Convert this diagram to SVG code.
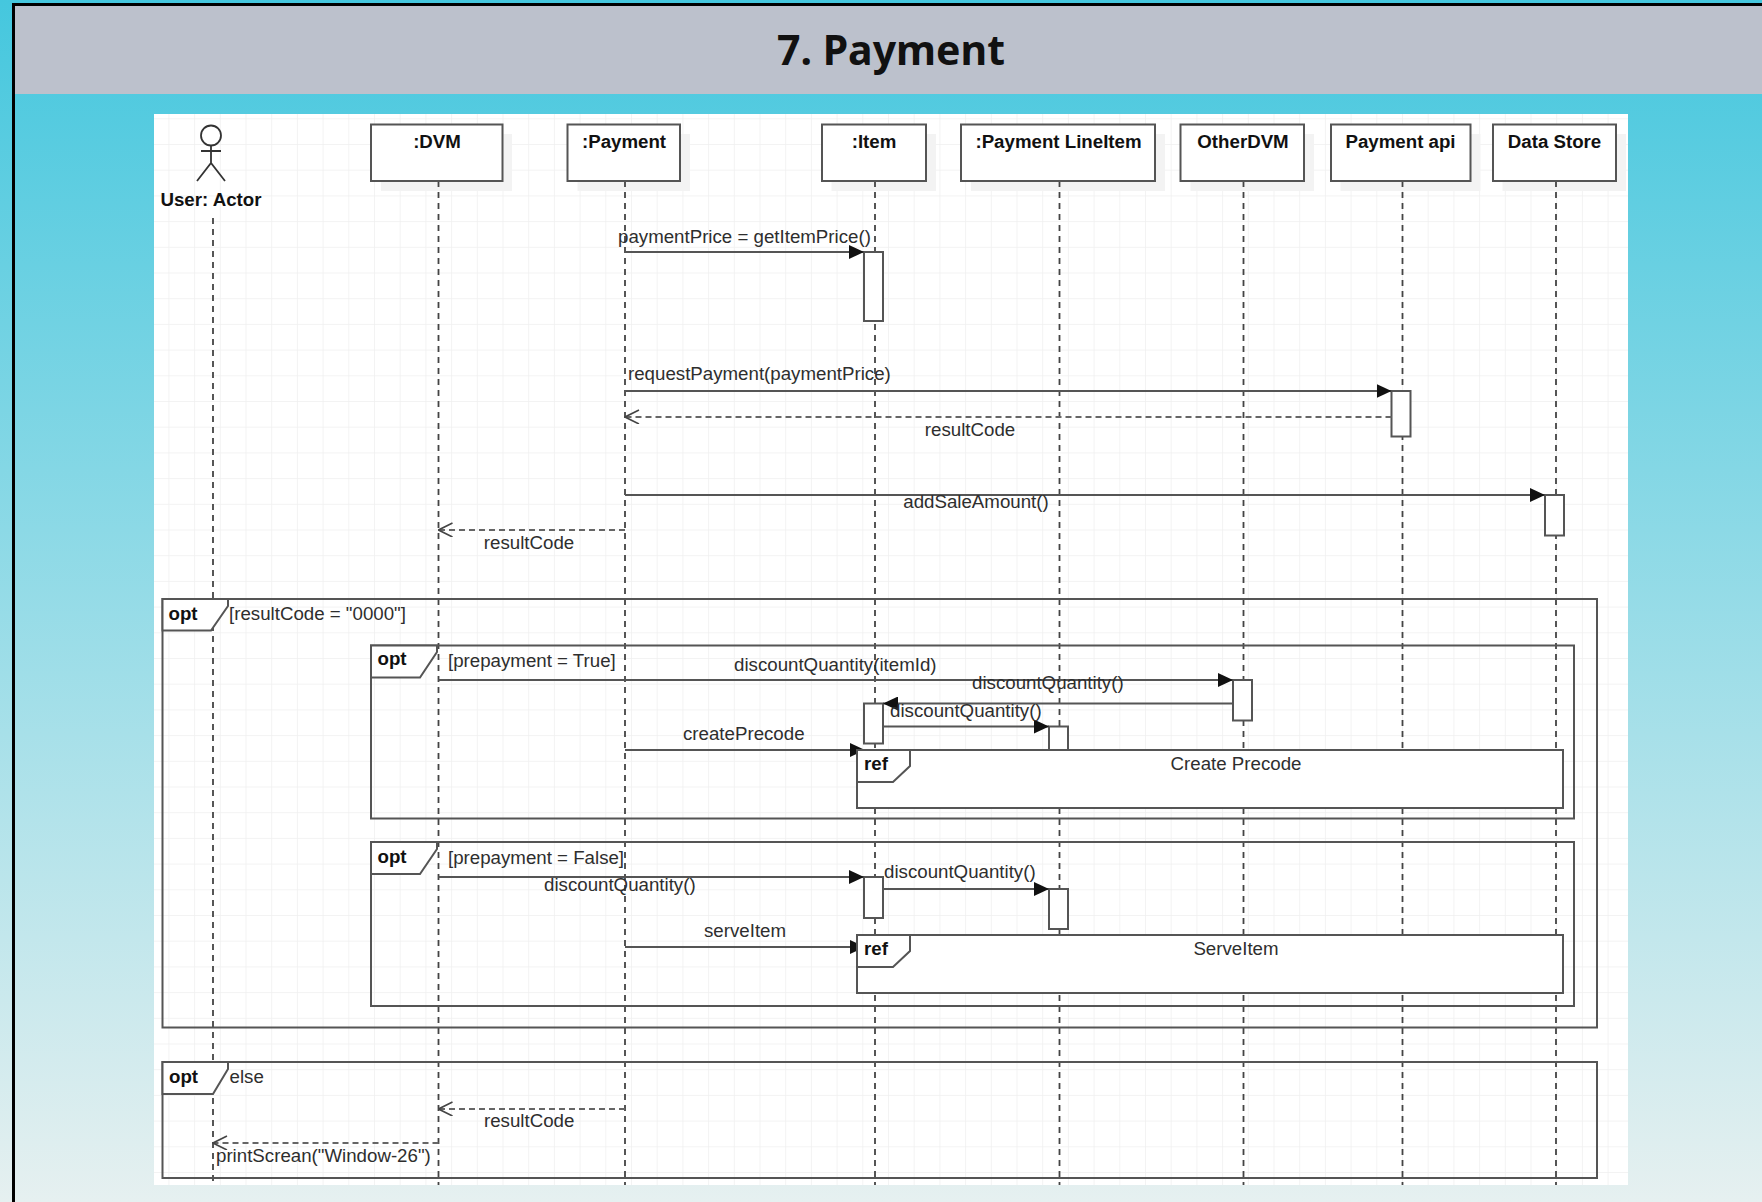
<svg xmlns="http://www.w3.org/2000/svg" width="1762" height="1202" viewBox="0 0 1762 1202">
<style>
text{font-family:"Liberation Sans",Arial,sans-serif;font-size:18.7px;fill:#2e2e2e}
.b{font-weight:bold;fill:#111}
.m{text-anchor:middle}
.t{font-family:"Noto Sans","Open Sans",sans-serif;font-size:41px;font-weight:bold;text-anchor:middle;fill:#111}
.box{fill:#fff;stroke:#555;stroke-width:2}
.sh{fill:#f3f3f3}
.act{fill:#fff;stroke:#555;stroke-width:2}
.fr{fill:none;stroke:#555;stroke-width:2}
.tab{fill:#fff;stroke:#555;stroke-width:2}
.life{stroke:#444;stroke-width:1.800;stroke-dasharray:6 5;fill:none}
.msg{stroke:#555;stroke-width:2;fill:none;marker-end:url(#solid)}
.ret{stroke:#666;stroke-width:2;stroke-dasharray:6 4;fill:none;marker-end:url(#open)}
</style>
<defs>
<linearGradient id="bg" x1="0" y1="0" x2="0" y2="1"><stop offset="0" stop-color="#45c7de"/><stop offset="1" stop-color="#e6f0f0"/></linearGradient>
<pattern id="grid" x="168.4" y="118.3" width="25.7" height="25.7" patternUnits="userSpaceOnUse"><path d="M0 0V25.7M0 0H25.7" stroke="#f0f0f0" stroke-width="1.5" fill="none"/></pattern>
<marker id="solid" markerUnits="userSpaceOnUse" markerWidth="16" markerHeight="14" refX="15" refY="7" orient="auto"><path d="M0 0L15 7L0 14Z" fill="#111"/></marker>
<marker id="open" markerUnits="userSpaceOnUse" markerWidth="16" markerHeight="16" refX="15" refY="7" orient="auto"><path d="M1 0L15 7L1 14" fill="none" stroke="#444" stroke-width="1.600"/></marker>
</defs>
<rect width="1762" height="1202" fill="url(#bg)"/>
<g id="page"><path d="M13.5 1202V4.5H1762" fill="none" stroke="#000" stroke-width="3"/><rect x="15" y="6" width="1747" height="88" fill="#bcc1cc"/><text class="t" x="891" y="65">7. Payment</text><rect x="154" y="114" width="1474" height="1071" fill="#fff"/><rect x="154" y="114" width="1474" height="1071" fill="url(#grid)"/></g>
<g id="shadows">
<rect class="sh" x="381" y="134" width="131" height="57"/>
<rect class="sh" x="577.500" y="134" width="112.500" height="57"/>
<rect class="sh" x="831.500" y="134" width="104.500" height="57"/>
<rect class="sh" x="971" y="134" width="194" height="57"/>
<rect class="sh" x="1190.500" y="134" width="123.500" height="57"/>
<rect class="sh" x="1340.500" y="134" width="140" height="57"/>
<rect class="sh" x="1502.500" y="134" width="123.500" height="57"/>
</g>
<g id="lifelines">
<path class="life" d="M213 218V1185M438.500 181V1185M625 181V1185M875 181V1185M1059.500 181V1185M1243.500 181V1185M1402.500 181V1185M1556 181V1185"/>
</g>
<g id="frames">
<g id="frame-opt-result"><rect class="fr" x="162.500" y="599" width="1434.500" height="428.500"/><path class="tab" d="M162.500 599H228V606L211 630.500H162.500Z"/><text class="b" x="168.500" y="620">opt</text><text x="229" y="620">[resultCode = "0000"]</text></g>
<g id="frame-opt-true"><rect class="fr" x="371" y="645.500" width="1203" height="173"/><path class="tab" d="M371 645.500H437V652L420 677.500H371Z"/><text class="b" x="377.500" y="665">opt</text><text x="448" y="667">[prepayment = True]</text></g>
<g id="frame-opt-false"><rect class="fr" x="371" y="842" width="1203" height="164"/><path class="tab" d="M371 842H437V849L420 874H371Z"/><text class="b" x="377.500" y="863">opt</text><text x="448" y="864">[prepayment = False]</text></g>
<g id="frame-opt-else"><rect class="fr" x="162.500" y="1062" width="1434.500" height="116"/><path class="tab" d="M162.500 1062H228V1069L213 1094H162.500Z"/><text class="b" x="169" y="1083">opt</text><text x="229.500" y="1083">else</text></g>
</g>
<g id="actor-user"><circle cx="211" cy="135.500" r="10" fill="#fff" stroke="#333" stroke-width="1.800"/><path d="M211 145.500V163M201 151H221M197 181L211 163L225 181" fill="none" stroke="#333" stroke-width="1.800"/><text class="b m" x="211" y="206">User: Actor</text></g>
<g id="node-dvm"><rect class="box" x="371" y="124.500" width="131.500" height="56.500"/><text class="b m" x="437" y="148">:DVM</text></g>
<g id="node-payment"><rect class="box" x="567.500" y="124.500" width="112.500" height="56.500"/><text class="b m" x="624" y="148">:Payment</text></g>
<g id="node-item"><rect class="box" x="822" y="124.500" width="104" height="56.500"/><text class="b m" x="874" y="148">:Item</text></g>
<g id="node-lineitem"><rect class="box" x="961" y="124.500" width="194" height="56.500"/><text class="b m" x="1058.500" y="148">:Payment LineItem</text></g>
<g id="node-otherdvm"><rect class="box" x="1180.500" y="124.500" width="123.500" height="56.500"/><text class="b m" x="1243" y="148">OtherDVM</text></g>
<g id="node-api"><rect class="box" x="1331" y="124.500" width="139.500" height="56.500"/><text class="b m" x="1400.500" y="148">Payment api</text></g>
<g id="node-store"><rect class="box" x="1493" y="124.500" width="123" height="56.500"/><text class="b m" x="1554.500" y="148">Data Store</text></g>
<g id="activations">
<rect class="act" x="864" y="252" width="19" height="69"/>
<rect class="act" x="1391.500" y="391" width="19" height="45.500"/>
<rect class="act" x="1545" y="495" width="19" height="40.500"/>
<rect class="act" x="1233" y="680" width="19" height="40.500"/>
<rect class="act" x="864" y="703.500" width="19" height="40"/>
<rect class="act" x="1049" y="726.500" width="19" height="26"/>
<rect class="act" x="864" y="877" width="19" height="41"/>
<rect class="act" x="1049" y="889" width="19" height="40"/>
</g>
<g id="connectors">
<path class="msg" d="M625 252H864"/>
<path class="msg" d="M625 391H1391.500"/>
<path class="ret" d="M1391.500 417H625"/>
<path class="msg" d="M625 495H1545"/>
<path class="ret" d="M625 530H438.500"/>
<path class="msg" d="M438.500 680H1233"/>
<path class="msg" d="M1233 703.500H883"/>
<path class="msg" d="M883 726.500H1049"/>
<path class="msg" d="M625 750H865"/>
<path class="msg" d="M438.500 877H864"/>
<path class="msg" d="M883 889H1049"/>
<path class="msg" d="M625 947H865"/>
<path class="ret" d="M625 1109H438.500"/>
<path class="ret" d="M438.500 1143H213"/>
</g>
<g id="ref-create"><path class="tab" d="M857 750H1563V808H857Z"/><path class="tab" d="M857 750H910V766L893 782H857Z"/><text class="b" x="864" y="770">ref</text><text class="m" x="1236" y="770">Create Precode</text></g>
<g id="ref-serve"><path class="tab" d="M857 935H1563V993H857Z"/><path class="tab" d="M857 935H910V951L893 967H857Z"/><text class="b" x="864" y="955">ref</text><text class="m" x="1236" y="955">ServeItem</text></g>
<g id="labels">
<text x="618" y="243">paymentPrice = getItemPrice()</text>
<text x="628" y="380">requestPayment(paymentPrice)</text>
<text class="m" x="970" y="436">resultCode</text>
<text class="m" x="976" y="508">addSaleAmount()</text>
<text class="m" x="529" y="549">resultCode</text>
<text x="734" y="671">discountQuantity(itemId)</text>
<text x="972" y="689">discountQuantity()</text>
<text x="890" y="717">discountQuantity()</text>
<text x="683" y="740">createPrecode</text>
<text x="544" y="891">discountQuantity()</text>
<text x="884" y="878">discountQuantity()</text>
<text x="704" y="937">serveItem</text>
<text x="484" y="1127">resultCode</text>
<text x="216" y="1162">printScrean("Window-26")</text>
</g>
</svg>
